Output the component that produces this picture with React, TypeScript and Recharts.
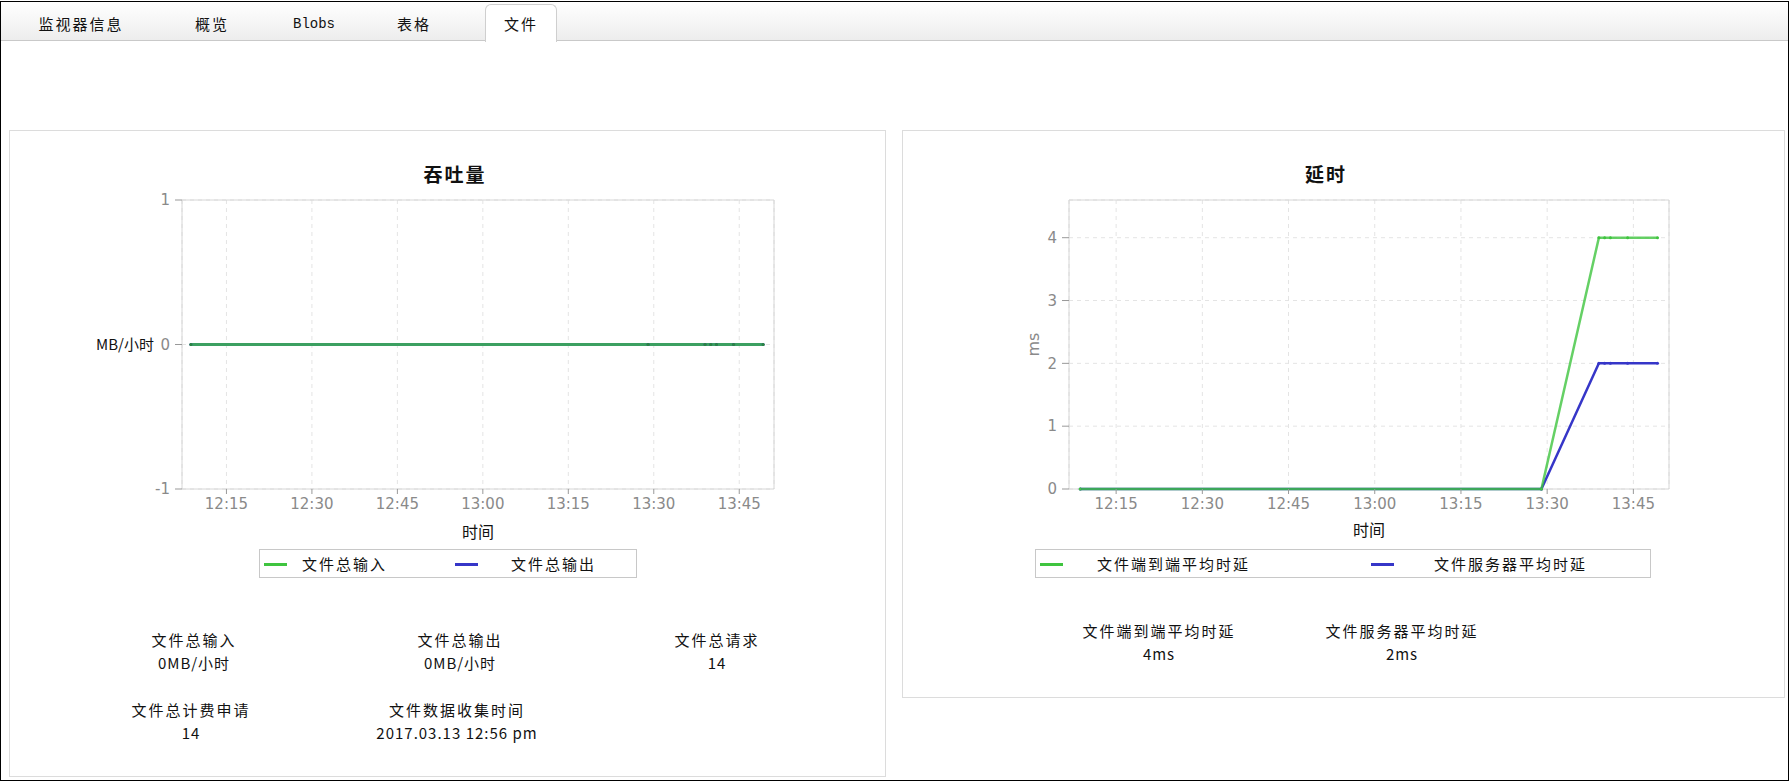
import { LineChart, Line, XAxis, YAxis, CartesianGrid, ReferenceArea } from "recharts";

// minutes after 12:00
const sampleMinutes = [8.75, 89, 99, 100, 101, 104, 109.2];
const fileInputMB = [0, 0, 0, 0, 0, 0, 0];
const fileOutputMB = [0, 0, 0, 0, 0, 0, 0];
const e2eLatencyMs = [0, 0, 4, 4, 4, 4, 4];
const serverLatencyMs = [0, 0, 2, 2, 2, 2, 2];

const xTicks = [15, 30, 45, 60, 75, 90, 105];
const xTickLabels = ["12:15", "12:30", "12:45", "13:00", "13:15", "13:30", "13:45"];
const throughputTicks = [-1, 0, 1];
const latencyTicks = [0, 1, 2, 3, 4];

const tabs = ["监视器信息", "概览", "Blobs", "表格", "文件"];

const throughputData = sampleMinutes.map((t, i) => ({ t, input: fileInputMB[i], output: fileOutputMB[i] }));
const latencyData = sampleMinutes.map((t, i) => ({ t, e2e: e2eLatencyMs[i], server: serverLatencyMs[i] }));

const GREEN = "#3fc43f";
const BLUE = "#3636c8";
const CJK = '"Noto Sans CJK SC", "Noto Sans", sans-serif';
const tickStyle = { fill: "#8a8a8a", fontSize: 15, fontFamily: '"DejaVu Sans", sans-serif' };
const fmtTime = (v: number) => xTickLabels[xTicks.indexOf(v)] ?? "";

const txt = (s: string, x: number, y: number, extra: any = {}) => (
  <div
    key={s + x + y}
    style={{
      position: "absolute",
      left: x - 150,
      top: y - 9,
      width: 300,
      height: 18,
      textAlign: "center",
      fontFamily: CJK,
      fontSize: 15,
      lineHeight: "18px",
      letterSpacing: 2,
      color: "#111",
      whiteSpace: "nowrap",
      ...extra,
    }}
  >
    {s}
  </div>
);

// label above, value below
const stat = (label: string, value: string, x: number, y: number) => (
  <div key={label}>
    {txt(label, x, y - 2)}
    {txt(value, x, y + 20.5, { letterSpacing: 1 })}
  </div>
);

function LegendBox({ left, width, items }: any) {
  return (
    <div
      style={{
        position: "absolute",
        left,
        top: 549,
        width,
        height: 29,
        border: "1px solid #c8c8c8",
        boxSizing: "border-box",
        background: "#fff",
      }}
    >
      {items.map((it: any) => (
        <div key={it.label}>
          <div style={{ position: "absolute", left: it.sx, top: 13, width: 23, height: 3, background: it.color }} />
          <div
            style={{
              position: "absolute",
              left: it.tx,
              top: 4,
              fontFamily: CJK,
              fontSize: 15,
              letterSpacing: 2,
              lineHeight: "20px",
              color: "#111",
              whiteSpace: "nowrap",
            }}
          >
            {it.label}
          </div>
        </div>
      ))}
    </div>
  );
}

export default function App() {
  const tabCenters = [81, 212, 314, 414, 521];
  return (
    <div style={{ position: "relative", width: 1791, height: 783, background: "#fff", overflow: "hidden" }}>
      <style>{`body{margin:0}`}</style>
      {/* frame */}
      <div style={{ position: "absolute", left: 0, top: 1, width: 1789, height: 780, border: "1px solid #000", boxSizing: "border-box" }} />
      {/* tab bar */}
      <div
        style={{
          position: "absolute",
          left: 1,
          top: 2,
          width: 1787,
          height: 39,
          background: "linear-gradient(#ffffff, #ededed)",
          borderBottom: "1px solid #c9c9c9",
          boxSizing: "border-box",
        }}
      />
      <div
        style={{
          position: "absolute",
          left: 485,
          top: 4,
          width: 72,
          height: 38,
          background: "#fff",
          border: "1px solid #cfcfcf",
          borderBottom: "none",
          borderRadius: "6px 6px 0 0",
          boxSizing: "border-box",
        }}
      />
      {tabs.map((t, i) =>
        txt(t, tabCenters[i], 24, t === "Blobs" ? { fontFamily: '"Liberation Mono", monospace', fontSize: 14, letterSpacing: 0 } : {})
      )}

      {/* panels */}
      <div style={{ position: "absolute", left: 9, top: 130, width: 877, height: 647, border: "1px solid #dcdcdc", boxSizing: "border-box" }} />
      <div style={{ position: "absolute", left: 902, top: 130, width: 883, height: 568, border: "1px solid #dcdcdc", boxSizing: "border-box" }} />

      {txt("吞吐量", 455, 174, { fontWeight: 700, fontSize: 19, letterSpacing: 2, height: 24, lineHeight: "24px", top: 162 })}
      {txt("延时", 1326, 174, { fontWeight: 700, fontSize: 19, letterSpacing: 2, height: 24, lineHeight: "24px", top: 162 })}

      {/* throughput chart */}
      <div style={{ position: "absolute", left: 90, top: 180 }}>
        <LineChart width={700} height={370} data={throughputData} margin={{ top: 20, right: 16, bottom: 6, left: 0 }}>
          <CartesianGrid stroke="#e4e4e4" strokeDasharray="4 4" />
          <ReferenceArea x1={7.2} x2={111.1} y1={-1} y2={1} fill="none" stroke="#d6d6d6" />
          <XAxis
            type="number"
            dataKey="t"
            domain={[7.2, 111.1]}
            ticks={xTicks}
            tickFormatter={fmtTime}
            axisLine={false}
            tickLine={{ stroke: "#999" }}
            tickSize={5}
            tickMargin={4}
            tick={tickStyle}
            height={55}
            label={{ value: "时间", position: "insideBottom", offset: 6, fill: "#111", fontSize: 16, fontFamily: CJK }}
          />
          <YAxis
            domain={[-1, 1]}
            ticks={throughputTicks}
            axisLine={false}
            tickLine={{ stroke: "#999" }}
            tickSize={7}
            tickMargin={5}
            tick={tickStyle}
            width={92}
            label={{ value: "MB/小时", position: "insideLeft", offset: 6, fill: "#111", fontSize: 15, fontFamily: CJK }}
          />
          <Line dataKey="output" stroke={BLUE} strokeWidth={3} dot={{ r: 1.5, fill: BLUE, stroke: "none" }} isAnimationActive={false} />
          <Line dataKey="input" stroke={GREEN} strokeOpacity={0.75} strokeWidth={3} dot={{ r: 1.5, fill: "#2a8a3a", stroke: "none" }} isAnimationActive={false} />
        </LineChart>
      </div>

      {/* latency chart */}
      <div style={{ position: "absolute", left: 990, top: 180 }}>
        <LineChart width={700} height={370} data={latencyData} margin={{ top: 20, right: 21, bottom: 6, left: 0 }}>
          <CartesianGrid stroke="#e4e4e4" strokeDasharray="4 4" />
          <ReferenceArea x1={6.8} x2={111.2} y1={0} y2={4.6} fill="none" stroke="#d6d6d6" />
          <XAxis
            type="number"
            dataKey="t"
            domain={[6.8, 111.2]}
            ticks={xTicks}
            tickFormatter={fmtTime}
            axisLine={false}
            tickLine={{ stroke: "#999" }}
            tickSize={5}
            tickMargin={4}
            tick={tickStyle}
            height={55}
            label={{ value: "时间", position: "insideBottom", offset: 8, fill: "#111", fontSize: 16, fontFamily: CJK }}
          />
          <YAxis
            domain={[0, 4.6]}
            ticks={latencyTicks}
            axisLine={false}
            tickLine={{ stroke: "#999" }}
            tickSize={7}
            tickMargin={5}
            tick={tickStyle}
            width={79}
            label={{ value: "ms", angle: -90, position: "center", dx: 4, fill: "#8a8a8a", fontSize: 16, fontFamily: '"DejaVu Sans", sans-serif' }}
          />
          <Line dataKey="server" stroke={BLUE} strokeWidth={2.5} dot={{ r: 1.5, fill: BLUE, stroke: "none" }} isAnimationActive={false} />
          <Line dataKey="e2e" stroke={GREEN} strokeOpacity={0.8} strokeWidth={2.5} dot={{ r: 1.5, fill: GREEN, stroke: "none" }} isAnimationActive={false} />
        </LineChart>
      </div>

      <LegendBox
        left={259}
        width={378}
        items={[
          { label: "文件总输入", color: GREEN, sx: 4, tx: 42 },
          { label: "文件总输出", color: BLUE, sx: 195, tx: 251 },
        ]}
      />
      <LegendBox
        left={1035}
        width={616}
        items={[
          { label: "文件端到端平均时延", color: GREEN, sx: 4, tx: 61 },
          { label: "文件服务器平均时延", color: BLUE, sx: 335, tx: 398 },
        ]}
      />

      {/* stats */}
      {stat("文件总输入", "0MB/小时", 194, 642)}
      {stat("文件总输出", "0MB/小时", 460, 642)}
      {stat("文件总请求", "14", 717, 642)}
      {stat("文件总计费申请", "14", 191, 712)}
      {stat("文件数据收集时间", "2017.03.13 12:56 pm", 457, 712)}

      {stat("文件端到端平均时延", "4ms", 1159, 633)}
      {stat("文件服务器平均时延", "2ms", 1402, 633)}
    </div>
  );
}
